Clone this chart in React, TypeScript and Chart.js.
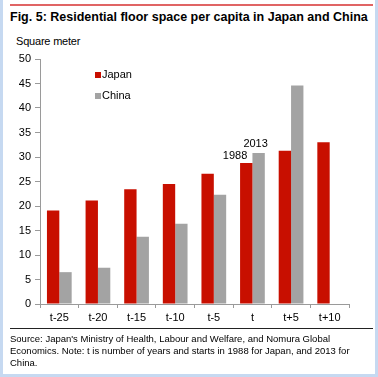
import React, { useEffect, useRef } from "react";
import { Chart, registerables } from "chart.js";

Chart.register(...registerables);

const categories = ["t-25", "t-20", "t-15", "t-10", "t-5", "t", "t+5", "t+10"];
const japan = [19.1, 21.1, 23.4, 24.5, 26.6, 28.8, 31.3, 33.0];
const china = [6.5, 7.4, 13.7, 16.4, 22.3, 30.8, 44.6, null];
const yTicks = [0, 5, 10, 15, 20, 25, 30, 35, 40, 45, 50];

const FONT = "'Liberation Sans', Arial, sans-serif";

const overlay = {
  id: "overlay",
  afterDatasetsDraw(chart: any) {
    const ctx = chart.ctx;
    ctx.save();
    ctx.font = `11px ${FONT}`;
    ctx.fillStyle = "#000";
    const j = chart.getDatasetMeta(0).data[5];
    const c = chart.getDatasetMeta(1).data[5];
    if (j) {
      ctx.textAlign = "right";
      ctx.textBaseline = "bottom";
      ctx.fillText("1988", j.x + 1, j.y - 1);
    }
    if (c) {
      ctx.textAlign = "center";
      ctx.textBaseline = "bottom";
      ctx.fillText("2013", c.x - 3, c.y - 4);
    }
    // legend
    const items = chart.data.datasets;
    const lx = 95;
    const ly = [75, 96];
    items.forEach((d: any, i: number) => {
      ctx.fillStyle = d.backgroundColor;
      ctx.fillRect(lx, ly[i] - 3, 6, 6);
      ctx.fillStyle = "#000";
      ctx.textAlign = "left";
      ctx.textBaseline = "middle";
      ctx.font = `11px ${FONT}`;
      ctx.fillText(d.label, lx + 7, ly[i]);
    });
    ctx.restore();
  },
};

export default function App() {
  const ref = useRef<HTMLCanvasElement>(null);
  useEffect(() => {
    document.body.style.margin = "0";
    const chart = new Chart(ref.current!, {
      type: "bar",
      data: {
        labels: categories,
        datasets: [
          { label: "Japan", data: japan, backgroundColor: "#c80f00" },
          { label: "China", data: china as any, backgroundColor: "#a3a3a3" },
        ],
      },
      options: {
        animation: false,
        responsive: false,
        maintainAspectRatio: false,
        layout: { padding: { left: 10, right: 29, top: 59, bottom: 53 } },
        plugins: { legend: { display: false }, tooltip: { enabled: false } },
        datasets: { bar: { categoryPercentage: 0.64, barPercentage: 1 } },
        scales: {
          x: {
            grid: { display: true, drawOnChartArea: false, tickLength: 4, color: "#9a9a9a", offset: true },
            border: { color: "#9a9a9a" },
            ticks: { color: "#000", font: { family: FONT, size: 11 }, padding: 3, maxRotation: 0 },
            afterFit: (s: any) => { s.height = 20; },
          },
          y: {
            min: 0,
            max: 50,
            afterBuildTicks: (s: any) => { s.ticks = yTicks.map((v) => ({ value: v })); },
            grid: { display: true, drawOnChartArea: false, tickLength: 5, color: "#9a9a9a" },
            border: { color: "#9a9a9a" },
            ticks: { color: "#000", font: { family: FONT, size: 11 }, padding: 4 },
            afterFit: (s: any) => { s.width = 30; },
          },
        },
      },
      plugins: [overlay],
    });
    return () => chart.destroy();
  }, []);

  return (
    <div style={{ position: "relative", width: 378, height: 377, background: "#fff", overflow: "hidden", fontFamily: FONT }}>
      <div style={{ position: "absolute", left: 0, top: 0, width: 3, height: 377, background: "#c6d9f1" }} />
      <div style={{ position: "absolute", right: 0, top: 0, width: 3, height: 377, background: "#c6d9f1" }} />
      <div style={{ position: "absolute", left: 0, bottom: 0, width: 378, height: 3, background: "#c6d9f1" }} />
      <div style={{ position: "absolute", left: 10, top: 4, width: 363, height: 2, background: "#e06464" }} />
      <div style={{ position: "absolute", left: 10, top: 9, fontSize: 12.5, fontWeight: "bold", whiteSpace: "nowrap", lineHeight: "16px" }}>
        Fig. 5: Residential floor space per capita in Japan and China
      </div>
      <div style={{ position: "absolute", left: 16, top: 34, fontSize: 11, whiteSpace: "nowrap", lineHeight: "14px", letterSpacing: -0.2 }}>
        Square meter
      </div>
      <canvas ref={ref} width={378} height={377} style={{ position: "absolute", left: 0, top: 0, width: 378, height: 377 }} />
      <div style={{ position: "absolute", left: 10, top: 328, width: 363, height: 1, background: "#222" }} />
      <div style={{ position: "absolute", left: 10, top: 333, fontSize: 9.5, lineHeight: "12px", whiteSpace: "nowrap" }}>
        Source: Japan's Ministry of Health, Labour and Welfare, and Nomura Global
        <br />
        Economics. Note: t is number of years and starts in 1988 for Japan, and 2013 for
        <br />
        China.
      </div>
    </div>
  );
}
